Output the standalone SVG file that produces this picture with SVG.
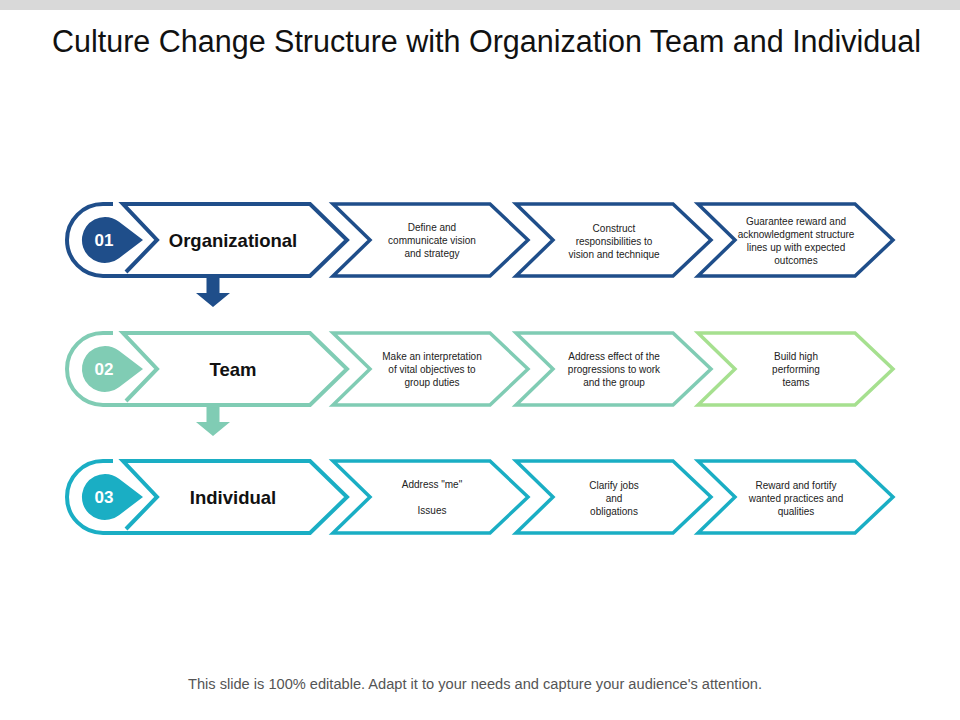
<svg xmlns="http://www.w3.org/2000/svg" width="960" height="720" viewBox="0 0 960 720">
<defs>
<style>
.title{font-family:"Liberation Sans",Arial,sans-serif;font-size:31px;fill:#111;}
.foot{font-family:"Liberation Sans",Arial,sans-serif;font-size:14px;fill:#555;}
.lbl{font-family:"Liberation Sans",Arial,sans-serif;font-size:18.5px;font-weight:bold;fill:#111;}
.num{font-family:"Liberation Sans",Arial,sans-serif;font-size:17px;font-weight:bold;fill:#fff;}
.sm{font-family:"Liberation Sans",Arial,sans-serif;font-size:10px;fill:#222;}
.shape{fill:none;stroke-width:4;stroke-linejoin:miter;}
.chev{fill:#fff;stroke-width:3.5;stroke-linejoin:miter;}
.blue{stroke:#1f4e8a;}
.mint{stroke:#80ccb4;}
.lime{stroke:#a6e08f;}
.teal{stroke:#1aaec4;}
</style>
<path id="mainShape" d="M113,-36 L103,-36 A36,36 0 0 0 103,36 L310,36 L347,0 L310,-36 L123,-36 L157,0 L126,32"/>
<path id="tear" d="M105,-23 A23,23 0 1 0 119,18.2 L143,0 L119,-18.2 A23,23 0 0 0 105,-23 Z"/>
<path id="chev" d="M0,-36 L157,-36 L195,0 L157,36 L0,36 L37,0 Z"/>
<path id="darrow" d="M-6.5,0 L6.5,0 L6.5,15 L17,15 L0,29 L-17,15 L-6.5,15 Z"/>
</defs>
<rect x="0" y="0" width="960" height="10" fill="#d9d9d9"/>
<text class="title" x="486.5" y="52" text-anchor="middle" textLength="869" lengthAdjust="spacingAndGlyphs">Culture Change Structure with Organization Team and Individual</text>

<g id="row1-organizational" transform="translate(0,240)">
<use href="#mainShape" class="shape blue"/>
<use href="#tear" fill="#1f4e8a"/>
<text class="num" x="104" y="6" text-anchor="middle">01</text>
<text class="lbl" x="233" y="7" text-anchor="middle">Organizational</text>
</g>
<g id="row1-step1" transform="translate(333,240)">
<use href="#chev" class="chev blue"/>
<text class="sm" text-anchor="middle"><tspan x="99" y="-9.5">Define and</tspan><tspan x="99" y="3.5">communicate vision</tspan><tspan x="99" y="16.5">and strategy</tspan></text>
</g>
<g id="row1-step2" transform="translate(516,240)">
<use href="#chev" class="chev blue"/>
<text class="sm" text-anchor="middle"><tspan x="98" y="-8.5">Construct</tspan><tspan x="98" y="4.5">responsibilities to</tspan><tspan x="98" y="17.5">vision and technique</tspan></text>
</g>
<g id="row1-step3" transform="translate(698,240)">
<use href="#chev" class="chev blue"/>
<text class="sm" text-anchor="middle"><tspan x="98" y="-15.5">Guarantee reward and</tspan><tspan x="98" y="-2.5">acknowledgment structure</tspan><tspan x="98" y="10.5">lines up with expected</tspan><tspan x="98" y="23.5">outcomes</tspan></text>
</g>

<g id="row2-team" transform="translate(0,369)">
<use href="#mainShape" class="shape mint"/>
<use href="#tear" fill="#80ccb4"/>
<text class="num" x="104" y="6" text-anchor="middle">02</text>
<text class="lbl" x="233" y="7" text-anchor="middle">Team</text>
</g>
<g id="row2-step1" transform="translate(333,369)">
<use href="#chev" class="chev mint"/>
<text class="sm" text-anchor="middle"><tspan x="99" y="-9.5">Make an interpretation</tspan><tspan x="99" y="3.5">of vital objectives to</tspan><tspan x="99" y="16.5">group duties</tspan></text>
</g>
<g id="row2-step2" transform="translate(516,369)">
<use href="#chev" class="chev mint"/>
<text class="sm" text-anchor="middle"><tspan x="98" y="-9.5">Address effect of the</tspan><tspan x="98" y="3.5">progressions to work</tspan><tspan x="98" y="16.5">and the group</tspan></text>
</g>
<g id="row2-step3" transform="translate(698,369)">
<use href="#chev" class="chev lime"/>
<text class="sm" text-anchor="middle"><tspan x="98" y="-9.5">Build high</tspan><tspan x="98" y="3.5">performing</tspan><tspan x="98" y="16.5">teams</tspan></text>
</g>

<g id="row3-individual" transform="translate(0,497)">
<use href="#mainShape" class="shape teal"/>
<use href="#tear" fill="#1aaec4"/>
<text class="num" x="104" y="6" text-anchor="middle">03</text>
<text class="lbl" x="233" y="7" text-anchor="middle">Individual</text>
</g>
<g id="row3-step1" transform="translate(333,497)">
<use href="#chev" class="chev teal"/>
<text class="sm" text-anchor="middle"><tspan x="99" y="-9.5">Address "me"</tspan><tspan x="99" y="16.5">Issues</tspan></text>
</g>
<g id="row3-step2" transform="translate(516,497)">
<use href="#chev" class="chev teal"/>
<text class="sm" text-anchor="middle"><tspan x="98" y="-8.5">Clarify jobs</tspan><tspan x="98" y="4.5">and</tspan><tspan x="98" y="17.5">obligations</tspan></text>
</g>
<g id="row3-step3" transform="translate(698,497)">
<use href="#chev" class="chev teal"/>
<text class="sm" text-anchor="middle"><tspan x="98" y="-8.5">Reward and fortify</tspan><tspan x="98" y="4.5">wanted practices and</tspan><tspan x="98" y="17.5">qualities</tspan></text>
</g>

<g id="connectors">
<use href="#darrow" transform="translate(213,278)" fill="#1f4e8a"/>
<use href="#darrow" transform="translate(213,407)" fill="#80ccb4"/>
</g>

<text class="foot" x="475" y="689" text-anchor="middle" textLength="574" lengthAdjust="spacingAndGlyphs">This slide is 100% editable. Adapt it to your needs and capture your audience's attention.</text>
</svg>
